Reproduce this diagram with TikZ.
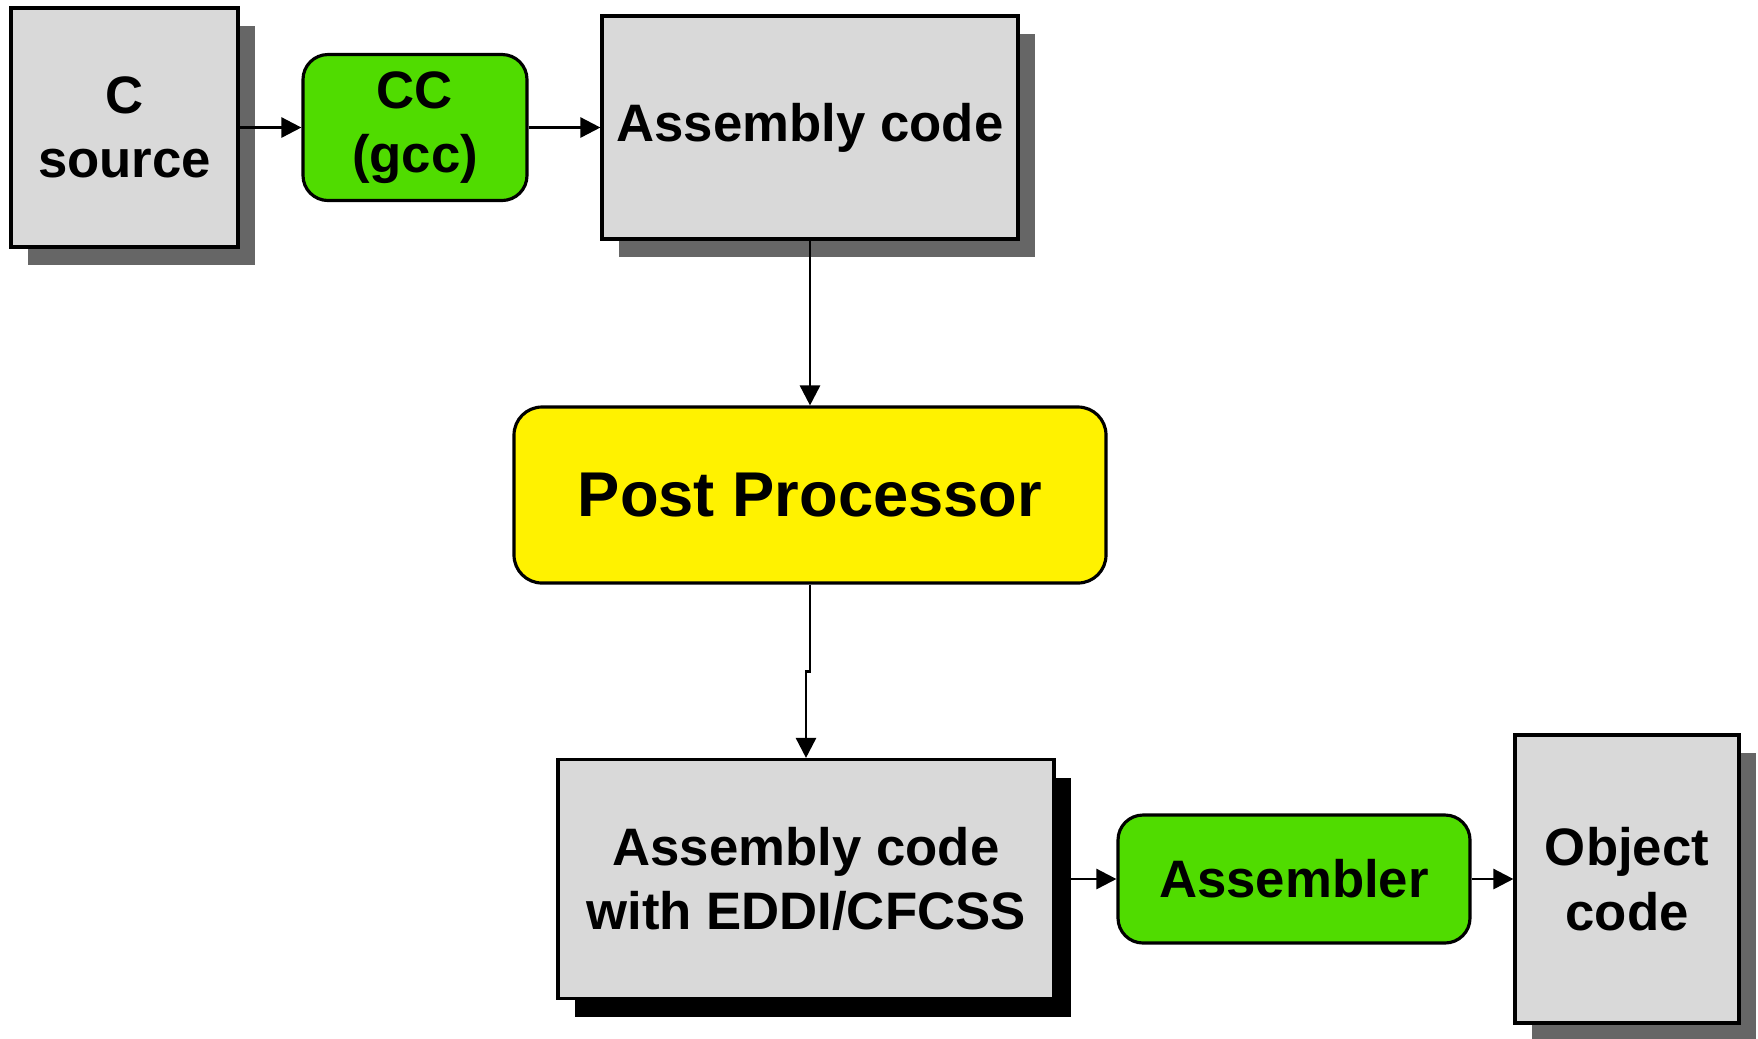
\documentclass[tikz,border=0pt]{standalone}
\usepackage{fontspec}
\setmainfont{Liberation Sans}
\usetikzlibrary{arrows.meta,shadows}
\definecolor{boxgray}{HTML}{D9D9D9}
\definecolor{shadegray}{HTML}{666666}
\definecolor{toolgreen}{HTML}{50DC00}

\begin{document}
\begin{tikzpicture}[
    filebox/.style={draw, line width=0.9pt, fill=boxgray, inner sep=0pt, align=center,
      font=\fontsize{15}{18.4}\selectfont\bfseries},
    greyshade/.style={drop shadow={shadow xshift=0.17cm, shadow yshift=-0.18cm, fill=shadegray, opacity=1}},
    darkshade/.style={drop shadow={shadow xshift=0.17cm, shadow yshift=-0.18cm, fill=black, opacity=1}},
    toolbox/.style={draw, line width=0.9pt, fill=toolgreen, rounded corners=0.25cm, inner sep=0pt,
      align=center, font=\fontsize{15}{18.4}\selectfont\bfseries},
    flow/.style={line width=0.75pt, -{Triangle[length=0.2cm,width=0.2cm]}}
  ]
    \useasboundingbox (0,0) rectangle (17.58,-10.38);

    \node[filebox, greyshade, minimum width=2.27cm, minimum height=2.39cm] (csrc) at (1.245,-1.275) {C\\source};
    \node[toolbox, minimum width=2.24cm, minimum height=1.46cm] (cc) at (4.15,-1.275) {CC\\(gcc)};
    \node[filebox, greyshade, minimum width=4.16cm, minimum height=2.23cm] (asm) at (8.10,-1.275) {Assembly code};
    \node[draw, line width=0.9pt, fill=yellow, rounded corners=0.28cm, minimum width=5.92cm, minimum height=1.76cm,
      font=\fontsize{18}{21}\selectfont\bfseries] (post) at (8.10,-4.95) {Post Processor};
    \node[filebox, darkshade, minimum width=4.96cm, minimum height=2.39cm] (eddi) at (8.06,-8.79) {Assembly code\\with EDDI/CFCSS};
    \node[toolbox, minimum width=3.52cm, minimum height=1.28cm] (asmb) at (12.94,-8.79) {Assembler};
    \node[filebox, greyshade, minimum width=2.24cm, minimum height=2.88cm] (obj) at (16.27,-8.79) {Object\\code};

    \draw[flow] (csrc) -- (cc);
    \draw[flow] (cc) -- (asm);
    \draw[flow] (asm) -- (post);
    \draw[flow] (post.south) -- ++(0,-0.87) -| (eddi.north);
    \draw[flow] (eddi) -- (asmb);
    \draw[flow] (asmb) -- (obj);
  \end{tikzpicture}
\end{document}
